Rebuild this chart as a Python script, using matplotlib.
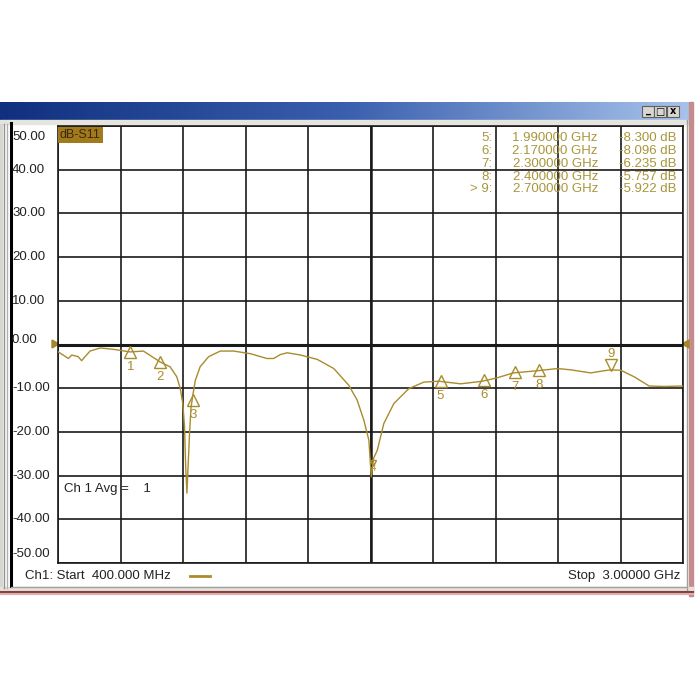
import numpy as np
import matplotlib
matplotlib.use('Agg')
import matplotlib.pyplot as plt
from matplotlib.patches import Rectangle, Polygon
from matplotlib.colors import LinearSegmentedColormap
from matplotlib.transforms import blended_transform_factory

# S11 trace
freq_ghz = [0.400, 0.442, 0.456, 0.483, 0.497, 0.511, 0.532, 0.574, 0.629, 0.699,
            0.754, 0.824, 0.865, 0.893, 0.907, 0.918, 0.925, 0.930, 0.935, 0.946,
            0.952, 0.960, 0.970, 0.990, 1.025, 1.074, 1.129, 1.199, 1.268, 1.296,
            1.324, 1.352, 1.407, 1.477, 1.546, 1.608, 1.643, 1.671, 1.692, 1.702,
            1.712, 1.727, 1.754, 1.796, 1.858, 1.921, 1.983, 2.074, 2.164, 2.227,
            2.293, 2.393, 2.477, 2.532, 2.615, 2.671, 2.699, 2.740, 2.796, 2.858,
            2.921, 3.000]
s11_db = [-1.7, -3.2, -2.4, -2.8, -3.7, -2.8, -1.5, -0.8, -1.1, -1.7,
          -1.5, -4.0, -5.1, -7.4, -10.0, -13.5, -18.8, -28.0, -34.0, -20.4,
          -14.5, -11.5, -8.2, -5.1, -2.8, -1.5, -1.5, -2.1, -3.2, -3.2,
          -2.3, -1.9, -2.4, -3.4, -5.5, -9.3, -12.7, -17.3, -21.9, -30.3,
          -26.0, -24.2, -18.1, -13.5, -10.1, -8.6, -8.4, -9.0, -8.4, -7.6,
          -6.5, -6.0, -5.5, -5.8, -6.5, -6.0, -5.8, -5.9, -7.4, -9.5,
          -9.6, -9.5]

# markers
marker_num = [1, 2, 3, 4, 5, 6, 7, 8, 9]
marker_ghz = [0.70, 0.825, 0.96, 1.71, 1.99, 2.17, 2.30, 2.40, 2.70]
marker_db = [-1.7, -4.0, -12.7, -27.2, -8.300, -8.096, -6.235, -5.757, -5.922]

# marker table (top right)
table_num = ['5:', '6:', '7:', '8:', '> 9:']
table_freq = ['1.990000 GHz', '2.170000 GHz', '2.300000 GHz', '2.400000 GHz', '2.700000 GHz']
table_db = ['-8.300 dB', '-8.096 dB', '-6.235 dB', '-5.757 dB', '-5.922 dB']

y_ticks = [50, 40, 30, 20, 10, 0, -10, -20, -30, -40, -50]

trace_col = '#a88c2c'
text_col = '#a8963c'
plt.rcParams['font.family'] = ['Liberation Sans', 'DejaVu Sans']

W = H = 700
fig = plt.figure(figsize=(7, 7), dpi=100)
fig.patch.set_facecolor('white')

# window chrome drawn in pixel coords
bg = fig.add_axes([0, 0, 1, 1], zorder=0)
bg.set_xlim(0, W)
bg.set_ylim(H, 0)
bg.axis('off')

grad = np.linspace(0, 1, 256).reshape(1, -1)
cmap = LinearSegmentedColormap.from_list('tb', ['#10307e', '#3a5fae', '#a8c4ec'])
bg.imshow(grad, cmap=cmap, extent=[0, 693, 120, 102], aspect='auto', zorder=1)
bg.add_patch(Rectangle((0, 120), 693, 4, color='#e6e4de', zorder=1))
bg.add_patch(Rectangle((0, 124), 2, 466, color='#d8d6d0', zorder=1))
bg.plot([3.5, 3.5], [124, 588], color='#909090', lw=1, zorder=2)
bg.plot([6.5, 6.5], [124, 588], color='#b0b0b0', lw=1, zorder=2)
bg.plot([10.5, 10.5], [123, 586], color='black', lw=2.2, zorder=2)
bg.plot([686.5, 686.5], [120, 590], color='#a0a0a0', lw=1, zorder=2)
bg.add_patch(Rectangle((689, 102), 4, 494, color='#c48c8c', zorder=1))
bg.plot([11, 686], [586.5, 586.5], color='#a0a0a0', lw=1, zorder=2)
bg.add_patch(Rectangle((0, 587), 693, 4, color='#e4e2dc', zorder=1))
bg.plot([0, 693], [591.5, 591.5], color='#8c3c3c', lw=1.5, zorder=2)
bg.plot([0, 693], [594, 594], color='#d8b0b0', lw=1.5, zorder=2)

# title bar buttons
for x0 in [642, 654, 667]:
    bg.add_patch(Rectangle((x0, 106), 12, 11, facecolor='#d8d6d0',
                           edgecolor='#606060', lw=0.8, zorder=3))
btn_txt = [(648, 110, '_'), (660, 111.5, '□'), (673, 111, 'x')]
for bx, by, s in btn_txt:
    bg.text(bx, by, s, ha='center', va='center', fontsize=7,
            fontweight='bold', color='black', family='DejaVu Sans', zorder=4)

# reference level arrows
bg.add_patch(Polygon([[52, 340], [52, 348], [59, 344]], color='#a8862a', zorder=5))
bg.add_patch(Polygon([[689, 340], [689, 348], [682, 344]], color='#a8862a', zorder=5))

# plot area
ax = fig.add_axes([58.3 / W, 1 - 563 / H, 625 / W, 437 / H], zorder=1)
ax.set_facecolor('white')
ax.set_xlim(0.4, 3.0)
ax.set_ylim(-50, 50)
ax.set_xticks(np.linspace(0.4, 3.0, 11))
ax.set_yticks(y_ticks)
ax.tick_params(length=0, labelbottom=False, labelleft=False)
ax.grid(True, color='#1a1a1a', lw=1.2)
ax.set_axisbelow(True)
for sp in ax.spines.values():
    sp.set_color('#1a1a1a')
    sp.set_linewidth(1.2)
ax.axhline(0, color='#1a1a1a', lw=2.2, zorder=1)
ax.axvline(1.7, color='#1a1a1a', lw=1.8, zorder=1)

ax.plot(freq_ghz, s11_db, color=trace_col, lw=1.0, zorder=3)

for n, f, d in zip(marker_num, marker_ghz, marker_db):
    if n == 9:
        ax.plot(f, d + 1.3, marker='v', ms=8, mfc='none', mec=trace_col, mew=1, zorder=4)
        ax.annotate(str(n), (f, d), xytext=(0, 12), textcoords='offset points',
                    ha='center', va='center', fontsize=9.5, color=trace_col)
    elif n == 4:
        ax.plot(f, d, marker='v', ms=5, mfc='none', mec=trace_col, mew=1, zorder=4)
        ax.annotate(str(n), (f, d), xytext=(0, -3), textcoords='offset points',
                    ha='center', va='center', fontsize=7, color=trace_col)
    else:
        ax.plot(f, d, marker='^', ms=8, mfc='none', mec=trace_col, mew=1, zorder=4)
        ax.annotate(str(n), (f, d), xytext=(0, -11), textcoords='offset points',
                    ha='center', va='center', fontsize=9.5, color=trace_col)

# y labels sit in the margin left of the plot
tr = blended_transform_factory(fig.transFigure, ax.transData)
for v in y_ticks:
    yy = v
    if v == 50:
        yy = 47.5
    elif v == -50:
        yy = -48
    elif v == 0:
        yy = 1
    ax.text(12 / W, yy, f'{v:.2f}', transform=tr, ha='left', va='center',
            fontsize=9.5, color='#222222', clip_on=False)

# trace label box
fig.text(60 / W, 1 - 135 / H, 'dB-S11', ha='left', va='center', fontsize=9,
         color='#3a2a0c', bbox=dict(boxstyle='square,pad=0.15',
                                    facecolor='#a27a1c', edgecolor='none'))

# marker table
row_y = [138, 151, 164, 177, 189]
for ry, a, b, c in zip(row_y, table_num, table_freq, table_db):
    fig.text(492 / W, 1 - ry / H, a, ha='right', va='center', fontsize=9.5, color=text_col)
    fig.text(598 / W, 1 - ry / H, b, ha='right', va='center', fontsize=9.5, color=text_col)
    fig.text(619 / W, 1 - ry / H, c, ha='left', va='center', fontsize=9.5, color=text_col)

fig.text(64 / W, 1 - 489 / H, 'Ch 1 Avg =    1', ha='left', va='center',
         fontsize=9.5, color='#222222')

# status line
fig.text(25 / W, 1 - 576 / H, 'Ch1: Start  400.000 MHz', ha='left', va='center',
         fontsize=9.5, color='#222222')
bg.plot([190, 210], [576, 576], color=trace_col, lw=2, zorder=3)
fig.text(680 / W, 1 - 576 / H, 'Stop  3.00000 GHz', ha='right', va='center',
         fontsize=9.5, color='#222222')

fig.savefig('out.png', dpi=100)
